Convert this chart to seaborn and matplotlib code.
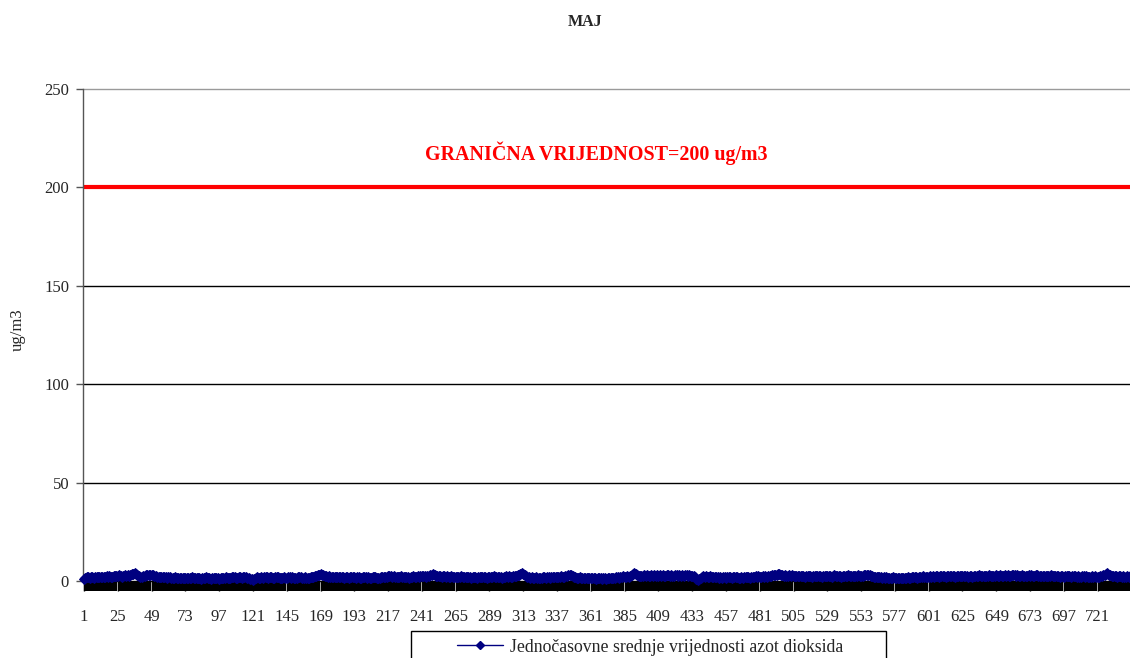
import numpy as np
import pandas as pd
import matplotlib
matplotlib.use("Agg")
import matplotlib.pyplot as plt
import seaborn as sns
from matplotlib.patches import Rectangle
from matplotlib.lines import Line2D

title = "MAJ"
y_label = "ug/m3"
series_name = "Jednočasovne srednje vrijednosti azot dioksida"
limit_label = "GRANIČNA VRIJEDNOST=200 ug/m3"
limit_value = 200
y_ticks = [0, 50, 100, 150, 200, 250]
x_tick_labels = list(range(1, 745, 24))

# hourly NO2 values (ug/m3), one row per day of May
day01 = [1.0,1.5,2.2,1.8,1.6,1.9,2.0,1.7,1.8,2.1,1.9,2.0,1.8,2.2,2.0,1.9,2.3,2.1,2.4,2.0,2.2,2.5,2.3,2.6]
day02 = [2.4,2.8,2.5,2.2,2.6,2.9,2.7,3.0,2.6,3.2,3.5,3.8,4.2,3.6,3.0,2.4,2.2,2.0,2.3,2.6,2.9,3.1,3.0,2.8]
day03 = [3.2,3.0,2.6,2.3,2.1,2.0,2.2,2.1,1.9,2.0,1.8,1.7,1.9,1.8,1.6,1.7,1.5,1.8,1.6,1.7,1.5,1.4,1.6,1.5]
day04 = [1.7,1.5,1.3,1.6,1.4,1.8,1.6,1.5,1.3,1.4,1.6,1.2,1.5,1.3,1.7,1.9,1.5,1.4,1.2,1.3,1.5,1.6,1.4,1.3]
day05 = [1.2,1.4,1.6,1.3,1.5,1.8,1.6,1.4,1.7,1.9,2.1,1.8,1.6,1.5,1.9,2.0,1.7,1.8,2.2,2.0,1.6,1.4,1.2,0.8]
day06 = [0.4,0.9,1.4,1.8,1.6,1.5,1.9,1.7,1.8,2.1,1.9,1.6,1.8,2.0,1.7,1.5,1.9,2.2,1.8,1.6,1.4,1.7,1.9,1.6]
day07 = [1.5,1.8,2.0,1.7,1.9,1.6,1.4,1.6,1.8,2.1,1.9,1.7,1.5,1.8,1.6,1.4,1.7,1.9,1.8,2.0,2.3,2.6,2.9,3.2]
day08 = [3.6,3.3,2.9,2.6,2.4,2.2,2.3,2.1,2.0,1.9,2.2,2.0,1.8,2.1,1.9,2.0,1.8,1.7,2.0,1.9,1.7,1.8,2.1,1.9]
day09 = [1.8,1.6,1.9,2.0,1.7,1.5,1.8,2.0,1.9,1.6,1.8,1.7,1.5,1.9,2.1,1.8,1.6,1.5,1.7,1.9,2.2,2.0,1.8,2.1]
day10 = [2.4,2.6,2.3,2.1,2.5,2.2,2.0,1.9,2.1,2.3,2.0,1.8,1.9,2.2,2.0,1.7,1.9,2.1,2.3,2.0,2.2,2.4,2.2,2.5]
day11 = [2.3,2.6,2.4,2.2,2.5,2.7,2.9,3.3,3.6,3.1,2.7,2.5,2.3,2.4,2.2,2.5,2.3,2.1,2.4,2.2,2.0,2.3,2.1,2.2]
day12 = [2.0,2.2,1.9,2.1,2.3,2.0,1.8,2.0,1.9,2.1,1.8,1.7,1.9,2.0,1.8,1.6,1.9,2.1,1.8,2.0,2.2,1.9,1.7,2.0]
day13 = [2.1,1.9,2.2,2.4,2.1,1.8,2.0,2.2,1.9,1.7,1.8,2.0,2.3,2.1,2.4,2.2,2.0,2.3,2.6,2.4,2.8,3.2,3.6,4.0]
day14 = [3.5,3.0,2.5,2.1,1.8,1.6,1.9,1.7,1.5,1.8,1.6,1.4,1.7,1.5,1.8,1.9,1.6,1.8,2.0,1.7,1.9,2.1,1.8,2.0]
day15 = [2.2,1.9,2.1,2.3,2.0,2.2,2.4,2.7,3.0,3.2,2.8,2.4,2.1,1.9,1.7,1.6,1.8,1.5,1.7,1.4,1.6,1.5,1.3,1.5]
day16 = [1.4,1.6,1.3,1.5,1.2,1.4,1.6,1.3,1.1,1.3,1.5,1.2,1.4,1.3,1.5,1.7,1.4,1.6,1.8,2.0,1.7,1.9,2.1,2.3]
day17 = [2.0,2.2,2.4,2.1,2.6,3.0,3.4,3.9,3.4,2.9,2.6,2.4,2.7,2.5,2.8,2.6,2.9,2.7,2.5,2.8,2.6,2.9,2.7,2.8]
day18 = [2.6,2.9,2.7,2.8,2.5,2.7,3.0,2.8,2.6,2.9,2.7,2.5,2.8,3.0,2.7,2.9,2.6,2.8,2.7,3.0,2.8,2.6,2.9,2.7]
day19 = [2.6,2.3,1.8,1.2,0.7,1.2,1.7,2.0,2.3,2.1,2.4,2.2,2.0,2.3,2.1,1.9,2.2,2.0,1.8,1.7,1.9,1.6,1.8,2.0]
day20 = [1.7,1.9,2.1,1.8,1.6,1.8,2.0,2.2,1.9,1.7,1.5,1.8,1.6,1.9,2.1,1.8,2.0,1.7,1.9,2.2,2.0,2.3,2.1,2.4]
day21 = [2.2,2.0,2.3,2.1,2.4,2.2,2.5,2.3,2.6,2.8,2.9,3.1,3.3,3.6,3.4,3.1,2.8,2.6,2.8,2.5,2.7,2.9,2.6,2.8]
day22 = [2.5,2.7,2.4,2.6,2.3,2.5,2.7,2.4,2.2,2.5,2.3,2.6,2.4,2.2,2.5,2.7,2.4,2.6,2.3,2.5,2.2,2.4,2.6,2.3]
day23 = [2.5,2.7,2.4,2.2,2.6,2.8,2.5,2.3,2.6,2.4,2.2,2.5,2.7,2.4,2.6,2.8,2.5,2.7,2.4,2.6,2.3,2.5,2.8,2.6]
day24 = [2.7,2.5,2.8,3.0,3.1,3.2,2.9,2.6,2.4,2.2,2.0,1.9,2.1,1.8,2.0,1.7,1.9,1.6,1.8,1.7,1.5,1.7,1.6,1.8]
day25 = [1.6,1.4,1.7,1.5,1.3,1.5,1.7,1.4,1.6,1.8,1.5,1.7,1.9,2.1,1.8,2.0,1.7,1.9,2.2,2.0,2.3,2.1,1.9,2.2]
day26 = [2.0,2.3,2.1,2.4,2.2,2.5,2.3,2.1,2.4,2.6,2.3,2.5,2.2,2.4,2.7,2.5,2.3,2.6,2.4,2.2,2.5,2.7,2.4,2.6]
day27 = [2.3,2.5,2.7,2.4,2.2,2.5,2.3,2.1,2.4,2.6,2.3,2.5,2.8,2.6,2.4,2.7,2.5,2.3,2.6,2.8,2.5,2.7,2.4,2.6]
day28 = [2.8,2.5,2.7,3.0,2.7,2.5,2.8,2.6,2.9,2.7,2.5,2.8,3.0,2.8,2.6,2.9,2.7,2.5,2.8,2.6,2.4,2.7,2.5,2.8]
day29 = [2.6,2.9,2.7,2.5,2.8,3.0,2.7,2.5,2.3,2.6,2.4,2.7,2.5,2.3,2.6,2.8,2.5,2.3,2.5,2.7,2.4,2.2,2.5,2.3]
day30 = [2.1,2.4,2.6,2.3,2.5,2.2,2.4,2.6,2.3,2.1,2.4,2.2,2.0,2.3,2.5,2.2,2.4,2.1,1.9,2.2,2.4,2.1,2.3,2.0]
day31 = [2.2,2.0,2.3,2.5,2.8,3.2,3.6,3.9,3.3,2.8,2.5,2.3,2.6,2.4,2.2,2.5,2.3,2.1,2.4,2.2,2.0,2.3,2.1,2.4]

days = [day01, day02, day03, day04, day05, day06, day07, day08, day09, day10,
        day11, day12, day13, day14, day15, day16, day17, day18, day19, day20,
        day21, day22, day23, day24, day25, day26, day27, day28, day29, day30, day31]
for d in days:
    assert len(d) == 24
values = [v for d in days for v in d]
hours = list(range(1, len(values) + 1))

df = pd.DataFrame({"hour": hours, "value": values})

sns.set_style("white")
plt.rcParams["font.family"] = ["Liberation Serif", "DejaVu Serif"]

W, H = 1130, 658
fig = plt.figure(figsize=(W / 100, H / 100), dpi=100)
left_px, right_px, top_px, bottom_px = 83, 1130, 89, 581
ax = fig.add_axes([left_px / W, 1 - bottom_px / H, (right_px - left_px) / W, (bottom_px - top_px) / H])

px_per_cat = 1.4285
x0 = 1 - 1 / px_per_cat
x1 = x0 + (right_px - left_px) / px_per_cat
ax.set_xlim(x0, x1)
ax.set_ylim(0, 250)

# gridlines
for yv in y_ticks[1:]:
    if yv == limit_value:
        continue
    ax.axhline(yv, color="black" if yv < 250 else "#9a9a9a", lw=1.0, zorder=1, clip_on=False)

# limit line
ax.axhline(limit_value, color="#ff0000", lw=3.0, zorder=2)
ax.text((596 - left_px) / (right_px - left_px), 1 - (153 - top_px) / (bottom_px - top_px),
        limit_label, transform=ax.transAxes, ha="center", va="center",
        color="#ff0000", fontsize=14.4, fontweight="bold")

sns.lineplot(data=df, x="hour", y="value", ax=ax, color="#000080", lw=1.2,
             marker="D", markersize=5.5, markeredgecolor="#000080", zorder=4,
             clip_on=False, legend=False)

# axes styling
for s in ["top", "right", "bottom"]:
    ax.spines[s].set_visible(False)
ax.spines["left"].set_color("#555555")
ax.spines["left"].set_linewidth(1.0)

ax.set_yticks(y_ticks)
ax.set_yticklabels([str(v) for v in y_ticks])
ax.tick_params(axis="y", direction="out", length=5, width=1, color="#555555",
               labelsize=12, pad=5, left=True)

ax.set_xticks(x_tick_labels)
ax.set_xticklabels([str(v) for v in x_tick_labels])
ax.set_xticks(hours, minor=True)
ax.tick_params(axis="x", which="major", direction="out", length=7, width=1, color="black",
               labelsize=12, pad=13, bottom=True)
ax.tick_params(axis="x", which="minor", direction="out", length=7, width=1.6, color="black",
               bottom=True)
ax.axhline(0, color="black", lw=1.0, zorder=3, clip_on=False)

ax.set_xlabel("")
ax.set_ylabel("")
fig.text(18 / W, 1 - 330 / H, y_label, rotation=90, ha="center", va="center", fontsize=12)
fig.text(585 / W, 1 - 22 / H, title, ha="center", va="center", fontsize=11.5, fontweight="bold")

# legend
fig.add_artist(Rectangle((411 / W, -0.02), (886 - 411) / W, 0.02 + (H - 631) / H,
                         transform=fig.transFigure, fill=False, edgecolor="black", lw=1.0))
handle = Line2D([], [], color="#000080", lw=1.0, marker="D", markersize=4.5)
fig.legend([handle], [series_name], loc="center", bbox_to_anchor=(650 / W, 1 - 647 / H),
           frameon=False, fontsize=12.8, handlelength=2.6, handletextpad=0.4)

fig.savefig("out.png", dpi=100)
